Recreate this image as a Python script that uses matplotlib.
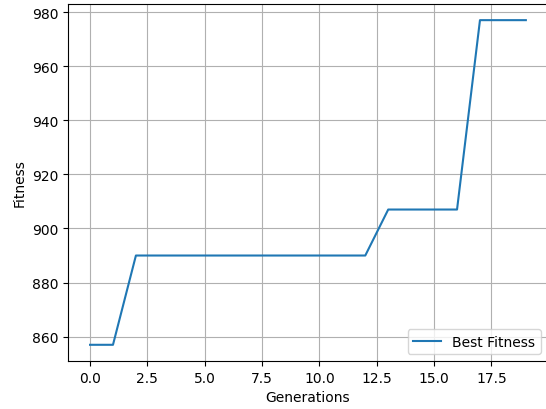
import numpy as np
import matplotlib
matplotlib.use("Agg")
import matplotlib.pyplot as plt

generations = np.arange(20)
best_fitness = [857, 857, 890, 890, 890, 890, 890, 890, 890, 890,
                890, 890, 890, 907, 907, 907, 907, 977, 977, 977]


def plot(x, y):
    fig = plt.figure(figsize=(5.46, 4.1), dpi=100)
    ax = fig.add_subplot(111)
    ax.plot(x, y, label="Best Fitness")
    ax.set_xlabel("Generations")
    ax.set_ylabel("Fitness")
    ax.grid(True)
    ax.legend(loc="lower right")
    plt.subplots_adjust(left=0.125, right=1.003, top=0.988, bottom=0.117)
    plt.savefig("out.png", dpi=100)
    plt.clf()


plot(generations, best_fitness)
